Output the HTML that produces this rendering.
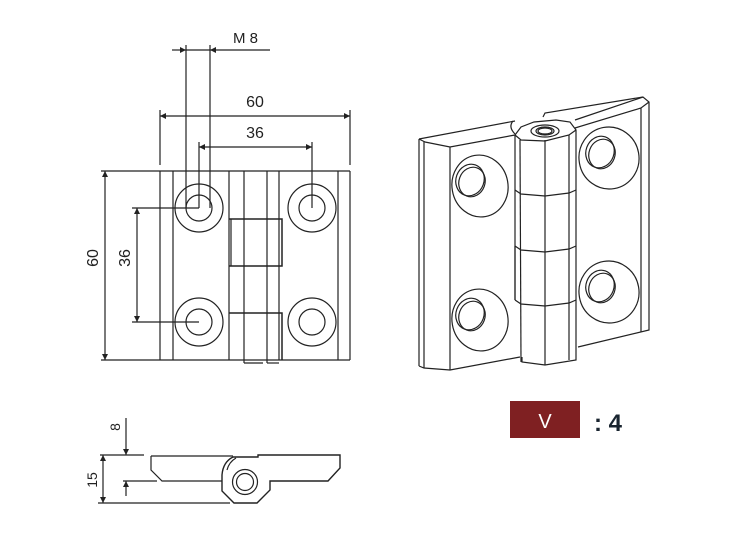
<!DOCTYPE html>
<html><head><style>
html,body{margin:0;padding:0;background:#fff;}
svg{display:block;}
text{font-family:"Liberation Sans",sans-serif;fill:#222;}
</style></head><body>
<svg width="733" height="534" viewBox="0 0 733 534" xmlns="http://www.w3.org/2000/svg">
<defs>
<marker id="a" viewBox="0 0 10 10" refX="10" refY="5" markerWidth="10" markerHeight="6" orient="auto-start-reverse" markerUnits="userSpaceOnUse"><path d="M0,0 L10,5 L0,10 z" fill="#222"/></marker>
</defs>
<g stroke="#222" stroke-width="1.2" fill="none">
<!-- front view -->
<line x1="101" y1="171" x2="350" y2="171"/>
<line x1="101" y1="360" x2="350" y2="360"/>
<line x1="160" y1="171" x2="160" y2="360"/>
<line x1="173" y1="171" x2="173" y2="360"/>
<line x1="229" y1="171" x2="229" y2="360"/>
<line x1="244" y1="171" x2="244" y2="363"/>
<line x1="267" y1="171" x2="267" y2="363"/>
<line x1="279" y1="171" x2="279" y2="360"/>
<line x1="338" y1="171" x2="338" y2="360"/>
<line x1="350" y1="171" x2="350" y2="360"/>
<line x1="244" y1="363" x2="263" y2="363"/>
<line x1="267" y1="363" x2="279" y2="363"/>
<path d="M229,219 H282 V266 H229 M229,313 H282 V360" stroke-width="1.5"/>
<line x1="231" y1="219" x2="231" y2="266"/>
<circle cx="199" cy="208" r="24"/><circle cx="199" cy="208" r="13"/>
<circle cx="312" cy="208" r="24"/><circle cx="312" cy="208" r="13"/>
<circle cx="199" cy="322" r="24"/><circle cx="199" cy="322" r="13"/>
<circle cx="312" cy="322" r="24"/><circle cx="312" cy="322" r="13"/>
<!-- dims -->
<line x1="186" y1="45" x2="186" y2="208"/>
<line x1="210" y1="45" x2="210" y2="208"/>
<line x1="172" y1="50" x2="186" y2="50" marker-end="url(#a)"/>
<line x1="270" y1="50" x2="210" y2="50" marker-end="url(#a)"/>
<line x1="186" y1="50" x2="210" y2="50"/>
<line x1="160" y1="110" x2="160" y2="165"/>
<line x1="350" y1="110" x2="350" y2="165"/>
<line x1="160" y1="116" x2="350" y2="116" marker-start="url(#a)" marker-end="url(#a)"/>
<line x1="199" y1="142" x2="199" y2="208"/>
<line x1="312" y1="142" x2="312" y2="208"/>
<line x1="199" y1="147" x2="312" y2="147" marker-start="url(#a)" marker-end="url(#a)"/>
<line x1="105" y1="171" x2="105" y2="360" marker-start="url(#a)" marker-end="url(#a)"/>
<line x1="132" y1="208" x2="199" y2="208"/>
<line x1="132" y1="322" x2="199" y2="322"/>
<line x1="137" y1="208" x2="137" y2="322" marker-start="url(#a)" marker-end="url(#a)"/>
<!-- iso view -->
<path d="M419,139 L515,121 M425,142 L450,147 L515,135 M419,139 L425,142"/>
<line x1="419" y1="139" x2="419" y2="366"/>
<line x1="424" y1="141" x2="424" y2="368"/>
<line x1="450" y1="147" x2="450" y2="370"/>
<path d="M419,366 L424,368 L450,370 L520,357"/>
<path d="M513,121 Q508,127 515,134"/>
<ellipse cx="480" cy="186" rx="28" ry="31" transform="rotate(-10 480 186)"/>
<ellipse cx="470" cy="180" rx="14" ry="16" transform="rotate(20 470 180)"/>
<ellipse cx="472" cy="182" rx="13" ry="15" transform="rotate(20 472 182)"/>
<ellipse cx="480" cy="320" rx="28" ry="31" transform="rotate(-10 480 320)"/>
<ellipse cx="470" cy="314" rx="14" ry="16" transform="rotate(20 470 314)"/>
<ellipse cx="472" cy="316" rx="13" ry="15" transform="rotate(20 472 316)"/>
<!-- right leaf -->
<path d="M575,120 L643,97 L649,102 L649,330 L578,347"/>
<path d="M575,128 L641,108 L649,102 M641,108 L641,332"/>
<path d="M543,117 L545,113 L643,97"/>
<ellipse cx="609" cy="158" rx="30" ry="31" transform="rotate(-10 609 158)"/>
<ellipse cx="600" cy="152" rx="14" ry="16" transform="rotate(20 600 152)"/>
<ellipse cx="602" cy="154" rx="13" ry="15" transform="rotate(20 602 154)"/>
<ellipse cx="609" cy="292" rx="30" ry="31" transform="rotate(-10 609 292)"/>
<ellipse cx="600" cy="286" rx="14" ry="16" transform="rotate(20 600 286)"/>
<ellipse cx="602" cy="288" rx="13" ry="15" transform="rotate(20 602 288)"/>
<!-- knuckle -->
<path d="M515,135 L521,127 L534,122 L556,120 L570,122 L576,130 L576,360 L545,365 L522,362 L522,357"/>
<line x1="515" y1="135" x2="515" y2="300"/>
<line x1="520" y1="140" x2="521" y2="362"/>
<line x1="545" y1="140" x2="545" y2="365"/>
<line x1="569" y1="135" x2="569" y2="360"/>
<path d="M515,135 L521,140 L545,141 L569,135 L576,130"/>
<path d="M515,190 L521,194 L545,196 L569,193 L576,190"/>
<path d="M515,246 L521,250 L545,252 L569,249 L576,246 M515,246 V300"/>
<path d="M515,300 L521,304 L545,306 L569,303 L576,300"/>
<ellipse cx="545" cy="131" rx="14" ry="6"/>
<ellipse cx="545" cy="131" rx="9" ry="4"/>
<ellipse cx="545" cy="131" rx="7" ry="3"/>
<!-- side view -->
<path d="M151,456 L233,456 M151,456 L151,470 L162,481 L222,481"/>
<path d="M233,457 L258,457 L258,455 L340,455 L340,468 L328,481 L270,481 L270,490 L257,503 L234,503 L222,491 L222,475 Q223,462 233,457" stroke-width="1.4"/>
<path d="M227,470 Q229,462 236,458"/>
<circle cx="245" cy="482" r="12.5"/><circle cx="245" cy="482" r="8.5"/>
<line x1="100" y1="455" x2="144" y2="455"/>
<line x1="123" y1="481" x2="157" y2="481"/>
<line x1="98" y1="503" x2="230" y2="503"/>
<line x1="126" y1="418" x2="126" y2="455" marker-end="url(#a)"/>
<line x1="126" y1="496" x2="126" y2="481" marker-end="url(#a)"/>
<line x1="103" y1="455" x2="103" y2="503" marker-start="url(#a)" marker-end="url(#a)"/>
</g>
<text x="233" y="43" font-size="15">M 8</text>
<text x="255" y="107" font-size="16" text-anchor="middle">60</text>
<text x="255" y="138" font-size="16" text-anchor="middle">36</text>
<text transform="translate(98,258) rotate(-90)" font-size="16" text-anchor="middle">60</text>
<text transform="translate(130,258) rotate(-90)" font-size="16" text-anchor="middle">36</text>
<text transform="translate(120,427) rotate(-90)" font-size="14" text-anchor="middle">8</text>
<text transform="translate(97,480) rotate(-90)" font-size="14" text-anchor="middle">15</text>
<rect x="510" y="401" width="70" height="37" fill="#7f2022"/>
<text x="545" y="428" font-size="20" style="fill:#fff" text-anchor="middle">V</text>
<text x="594" y="431" font-size="24" font-weight="bold" style="fill:#1a2530">: 4</text>
</svg>
</body></html>
